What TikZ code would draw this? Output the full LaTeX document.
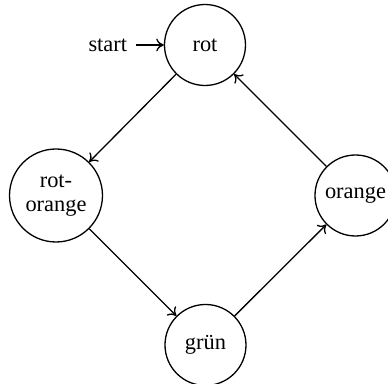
\documentclass[tikz,border=0pt]{standalone}
\usepackage{fontspec}
\setmainfont{Liberation Serif}
\usetikzlibrary{arrows.meta}
\begin{document}
\begin{tikzpicture}[x=0.5pt,y=-0.5pt,
  state/.style={circle,draw,line width=0.65pt,minimum size=40.5pt,inner sep=1pt,font=\fontsize{11.2}{11.8}\selectfont,align=center},
  bigstate/.style={state,minimum size=46.5pt},
  trans/.style={-{To[length=3.8pt,width=6.4pt]},line width=0.65pt}]
\useasboundingbox (0,0) rectangle (388,384);
\clip (0,0) rectangle (388,384);
\node[state] (rot) at (205,45) {rot};
\node[bigstate] (ro) at (56,195.5) {rot-\\orange};
\node[state] (gruen) at (205.5,345) {grün};
\node[state] (orange) at (355.5,195.5) {orange};
\node[anchor=east,inner sep=0pt,font=\fontsize{11.2}{12}\selectfont] (start) at (127.5,45) {start};
\draw[trans,shorten <=4.5pt] (start.east) -- (rot.west);
\draw[trans] (rot) -- (ro);
\draw[trans] (ro) -- (gruen);
\draw[trans] (gruen) -- (orange);
\draw[trans] (orange) -- (rot);
\end{tikzpicture}
\end{document}
